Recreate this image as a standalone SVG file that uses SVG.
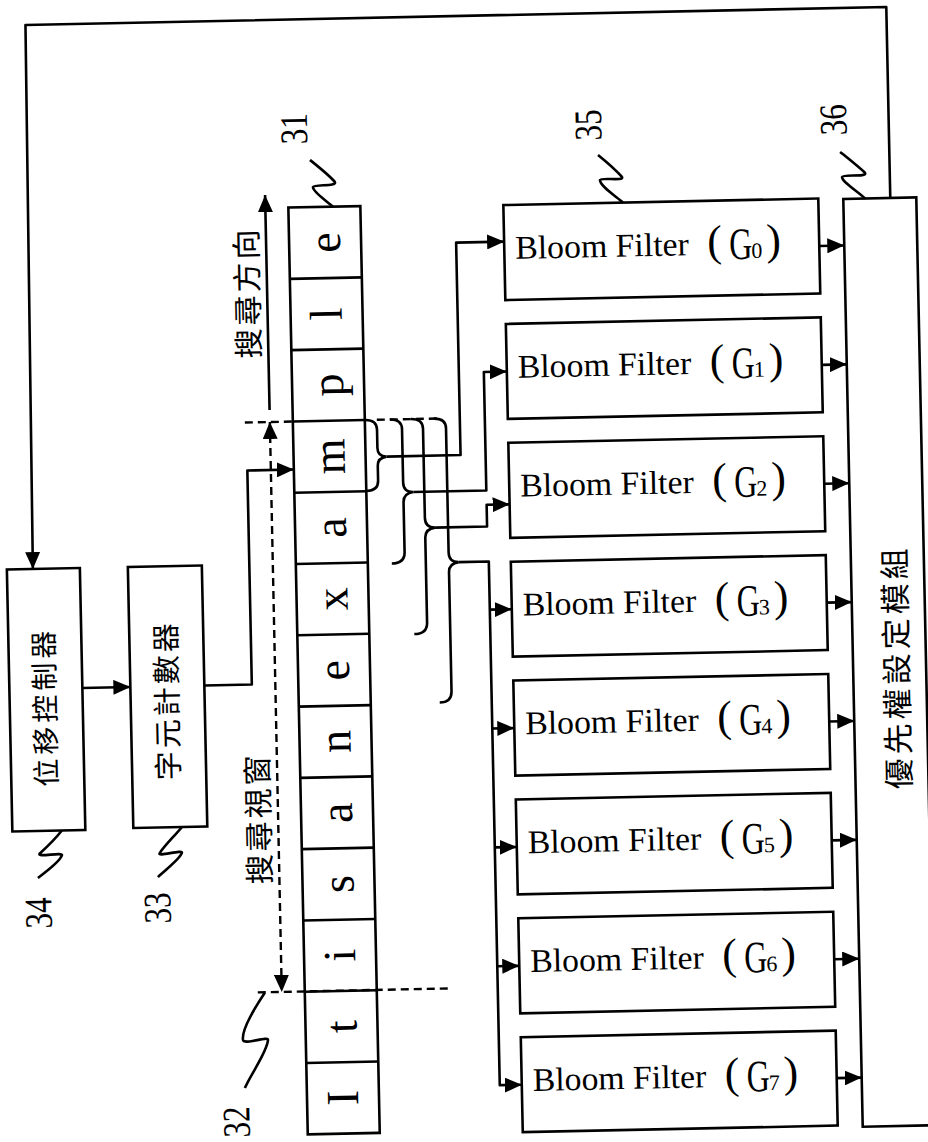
<svg xmlns="http://www.w3.org/2000/svg" width="928" height="1142" viewBox="0 0 928 1142">
<style>
.ln{fill:none;stroke:#000;stroke-width:2.6;stroke-linejoin:round;stroke-linecap:butt}
.box{fill:#fff;stroke:#000;stroke-width:2.6}
.dash{fill:none;stroke:#000;stroke-width:2.4;stroke-dasharray:8 5}
.ch{font-family:"Liberation Serif",serif;font-size:46px;fill:#000;text-anchor:middle}
.bf{font-family:"Liberation Serif",serif;font-size:33px;fill:#000}
.bp{font-size:44px}
.bg{font-size:45px}
.bs{font-size:22px}
.zh{font-family:"Noto Sans CJK TC","Noto Sans CJK SC",sans-serif;fill:#000;text-anchor:middle}
.num{font-family:"Liberation Serif",serif;font-size:39px;fill:#000;text-anchor:middle}
</style>
<defs>
<marker id="ah" viewBox="0 0 17 15" refX="17" refY="7.5" markerWidth="17" markerHeight="15" markerUnits="userSpaceOnUse" orient="auto-start-reverse"><path d="M0 0L17 7.5L0 15Z" fill="#000"/></marker>
</defs>
<rect x="0" y="0" width="928" height="1142" fill="#fff"/>
<g transform="rotate(-1.2 464 571)">

<g id="string-31">
<rect class="box" x="296" y="204" width="72" height="927"/>
<path class="ln" d="M296 275.3H368M296 346.6H368M296 417.9H368M296 489.2H368M296 560.5H368M296 631.8H368M296 703.1H368M296 774.4H368M296 845.7H368M296 917H368M296 988.3H368M296 1059.6H368"/>
<g transform="translate(347 239.7) rotate(-90)"><text class="ch" x="0" y="0">e</text></g>
<g transform="translate(347 311) rotate(-90)"><text class="ch" x="0" y="0">l</text></g>
<g transform="translate(347 382.3) rotate(-90)"><text class="ch" x="0" y="0">p</text></g>
<g transform="translate(347 453.6) rotate(-90)"><text class="ch" x="0" y="0">m</text></g>
<g transform="translate(347 524.9) rotate(-90)"><text class="ch" x="0" y="0">a</text></g>
<g transform="translate(347 596.2) rotate(-90)"><text class="ch" x="0" y="0">x</text></g>
<g transform="translate(347 667.5) rotate(-90)"><text class="ch" x="0" y="0">e</text></g>
<g transform="translate(347 738.8) rotate(-90)"><text class="ch" x="0" y="0">n</text></g>
<g transform="translate(347 810.1) rotate(-90)"><text class="ch" x="0" y="0">a</text></g>
<g transform="translate(347 881.4) rotate(-90)"><text class="ch" x="0" y="0">s</text></g>
<g transform="translate(347 952.7) rotate(-90)"><text class="ch" x="0" y="0">i</text></g>
<g transform="translate(347 1024) rotate(-90)"><text class="ch" x="0" y="0">t</text></g>
<g transform="translate(347 1095.3) rotate(-90)"><text class="ch" x="0" y="0">I</text></g>
</g>

<g id="shift-controller-34">
<rect class="box" x="7" y="560" width="73" height="262"/>
<text class="zh" font-size="28" letter-spacing="4" x="52.6" y="698" transform="rotate(-90 52.6 698)">位移控制器</text>
</g>

<g id="char-counter-33">
<rect class="box" x="128" y="560" width="74" height="261"/>
<text class="zh" font-size="29" letter-spacing="3" x="175" y="694" transform="rotate(-90 175 694)">字元計數器</text>
</g>

<g id="bloom-filter-g0">
<rect class="box" x="511" y="206" width="315" height="95"/>
<text class="bf" y="260"><tspan x="522" textLength="182" lengthAdjust="spacingAndGlyphs">Bloom Filter </tspan><tspan class="bp" x="714" y="261">(</tspan><tspan class="bg" x="736" y="265" textLength="23" lengthAdjust="spacingAndGlyphs">G</tspan><tspan class="bs" x="758" y="264">0</tspan><tspan class="bp" x="773" y="261">)</tspan></text>
</g>
<g id="bloom-filter-g1">
<rect class="box" x="511" y="324.9" width="315" height="95"/>
<text class="bf" y="378.9"><tspan x="522" textLength="182" lengthAdjust="spacingAndGlyphs">Bloom Filter </tspan><tspan class="bp" x="714" y="379.9">(</tspan><tspan class="bg" x="736" y="383.9" textLength="23" lengthAdjust="spacingAndGlyphs">G</tspan><tspan class="bs" x="758" y="382.9">1</tspan><tspan class="bp" x="773" y="379.9">)</tspan></text>
</g>
<g id="bloom-filter-g2">
<rect class="box" x="511" y="443.8" width="315" height="95"/>
<text class="bf" y="497.8"><tspan x="522" textLength="182" lengthAdjust="spacingAndGlyphs">Bloom Filter </tspan><tspan class="bp" x="714" y="498.8">(</tspan><tspan class="bg" x="736" y="502.8" textLength="23" lengthAdjust="spacingAndGlyphs">G</tspan><tspan class="bs" x="758" y="501.8">2</tspan><tspan class="bp" x="773" y="498.8">)</tspan></text>
</g>
<g id="bloom-filter-g3">
<rect class="box" x="511" y="562.7" width="315" height="95"/>
<text class="bf" y="616.7"><tspan x="522" textLength="182" lengthAdjust="spacingAndGlyphs">Bloom Filter </tspan><tspan class="bp" x="714" y="617.7">(</tspan><tspan class="bg" x="736" y="621.7" textLength="23" lengthAdjust="spacingAndGlyphs">G</tspan><tspan class="bs" x="758" y="620.7">3</tspan><tspan class="bp" x="773" y="617.7">)</tspan></text>
</g>
<g id="bloom-filter-g4">
<rect class="box" x="511" y="681.6" width="315" height="95"/>
<text class="bf" y="735.6"><tspan x="522" textLength="182" lengthAdjust="spacingAndGlyphs">Bloom Filter </tspan><tspan class="bp" x="714" y="736.6">(</tspan><tspan class="bg" x="736" y="740.6" textLength="23" lengthAdjust="spacingAndGlyphs">G</tspan><tspan class="bs" x="758" y="739.6">4</tspan><tspan class="bp" x="773" y="736.6">)</tspan></text>
</g>
<g id="bloom-filter-g5">
<rect class="box" x="511" y="800.5" width="315" height="95"/>
<text class="bf" y="854.5"><tspan x="522" textLength="182" lengthAdjust="spacingAndGlyphs">Bloom Filter </tspan><tspan class="bp" x="714" y="855.5">(</tspan><tspan class="bg" x="736" y="859.5" textLength="23" lengthAdjust="spacingAndGlyphs">G</tspan><tspan class="bs" x="758" y="858.5">5</tspan><tspan class="bp" x="773" y="855.5">)</tspan></text>
</g>
<g id="bloom-filter-g6">
<rect class="box" x="511" y="919.4" width="315" height="95"/>
<text class="bf" y="973.4"><tspan x="522" textLength="182" lengthAdjust="spacingAndGlyphs">Bloom Filter </tspan><tspan class="bp" x="714" y="974.4">(</tspan><tspan class="bg" x="736" y="978.4" textLength="23" lengthAdjust="spacingAndGlyphs">G</tspan><tspan class="bs" x="758" y="977.4">6</tspan><tspan class="bp" x="773" y="974.4">)</tspan></text>
</g>
<g id="bloom-filter-g7">
<rect class="box" x="511" y="1038.3" width="315" height="95"/>
<text class="bf" y="1092.3"><tspan x="522" textLength="182" lengthAdjust="spacingAndGlyphs">Bloom Filter </tspan><tspan class="bp" x="714" y="1093.3">(</tspan><tspan class="bg" x="736" y="1097.3" textLength="23" lengthAdjust="spacingAndGlyphs">G</tspan><tspan class="bs" x="758" y="1096.3">7</tspan><tspan class="bp" x="773" y="1093.3">)</tspan></text>
</g>

<g id="priority-module-36">
<rect class="box" x="851" y="207" width="73" height="928"/>
<text class="zh" font-size="31" letter-spacing="4" x="906" y="676" transform="rotate(-90 906 676)">優先權設定模組</text>
</g>

<g id="search-direction">
<path class="ln" d="M273 406V191" marker-end="url(#ah)"/>
<text class="zh" font-size="30" letter-spacing="3" x="264.4" y="288" transform="rotate(-90 264.4 288)">搜尋方向</text>
</g>

<g id="search-window-32">
<path class="dash" d="M248 418H296M380 418H440"/>
<path class="dash" d="M249 988H441"/>
<path class="dash" d="M273 418V988" marker-start="url(#ah)" marker-end="url(#ah)"/>
<text class="zh" font-size="30" letter-spacing="3" x="264.4" y="814" transform="rotate(-90 264.4 814)">搜尋視窗</text>
</g>

<g id="connectors">
<path class="ln" d="M898 207V16H37L33 560" marker-end="url(#ah)"/>
<path class="ln" d="M80 680H128" marker-end="url(#ah)"/>
<path class="ln" d="M202 680H249.5V466H296" marker-end="url(#ah)"/>
<path class="ln" d="M368 418Q380 418 380 428V446Q380 455 389 455M389 455Q380 456 380 464V479Q380 489 368 489"/>
<path class="ln" d="M393 418Q405 418 405 428V481Q405 491 415 491M415 491Q405 492 405 501V551Q405 562 392 562"/>
<path class="ln" d="M414 418Q426 418 426 428V517Q426 527 436 527M436 527Q426 528 426 537V622Q426 633 413 633"/>
<path class="ln" d="M437 418Q449 418 449 428V552Q449 562 459 562M459 562Q449 563 449 572V691Q449 702 437 702"/>
<path class="ln" d="M389 455H463V242.5H511" marker-end="url(#ah)"/>
<path class="ln" d="M415 491H488V372.4H511" marker-end="url(#ah)"/>
<path class="ln" d="M436 527H488V505.3H511" marker-end="url(#ah)"/>
<path class="ln" d="M459 562H489V1085.8H511" marker-end="url(#ah)"/>
<path class="ln" d="M489 610.2H511" marker-end="url(#ah)"/>
<path class="ln" d="M489 729.1H511" marker-end="url(#ah)"/>
<path class="ln" d="M489 848H511" marker-end="url(#ah)"/>
<path class="ln" d="M489 966.9H511" marker-end="url(#ah)"/>
<path class="ln" d="M826 253.5H851" marker-end="url(#ah)"/>
<path class="ln" d="M826 372.4H851" marker-end="url(#ah)"/>
<path class="ln" d="M826 491.3H851" marker-end="url(#ah)"/>
<path class="ln" d="M826 610.2H851" marker-end="url(#ah)"/>
<path class="ln" d="M826 729.1H851" marker-end="url(#ah)"/>
<path class="ln" d="M826 848H851" marker-end="url(#ah)"/>
<path class="ln" d="M826 966.9H851" marker-end="url(#ah)"/>
<path class="ln" d="M826 1085.8H851" marker-end="url(#ah)"/>
</g>

<g id="labels">
<path class="ln" d="M318.6 156.8C326 163 338 173 343 179.3C346 184 322 181 321 184C321 189 334 198 340.7 204"/>
<text class="num" x="316.2" y="125.4" textLength="31" lengthAdjust="spacingAndGlyphs" transform="rotate(-90 316.2 125.4)">31</text>
<path class="ln" d="M606.7 157.8C614 164 625 174 630.2 180.3C633 185 609 180 608.1 183C608 189 623 199 630.7 206"/>
<text class="num" x="610.6" y="127.6" textLength="31" lengthAdjust="spacingAndGlyphs" transform="rotate(-90 610.6 127.6)">35</text>
<path class="ln" d="M848.8 159.9C856 166 868 176 873.3 181.4C876 186 851 182 850.2 185C850 190 866 200 872.8 207"/>
<text class="num" x="855.7" y="127.7" textLength="31" lengthAdjust="spacingAndGlyphs" transform="rotate(-90 855.7 127.7)">36</text>
<path class="ln" d="M56.5 822C50 830 38 841 34 844.5C30 849 58 843 56 847C54 853 40 863 31.6 869"/>
<text class="num" x="44.5" y="904" textLength="31" lengthAdjust="spacingAndGlyphs" transform="rotate(-90 44.5 904)">34</text>
<path class="ln" d="M176.6 821C170 829 158 840 154 846.6C150 851 178 843 176 847C174 853 160 863 151.6 870.6"/>
<text class="num" x="163.6" y="901.6" textLength="31" lengthAdjust="spacingAndGlyphs" transform="rotate(-90 163.6 901.6)">33</text>
<path class="ln" d="M256 988.5C248 1000 232 1024 233.2 1035C234 1041 259 1031 258.2 1036C257 1048 240 1070 234.1 1083.4"/>
<text class="num" x="238.1" y="1117.2" textLength="31" lengthAdjust="spacingAndGlyphs" transform="rotate(-90 238.1 1117.2)">32</text>
</g>

</g>
</svg>
